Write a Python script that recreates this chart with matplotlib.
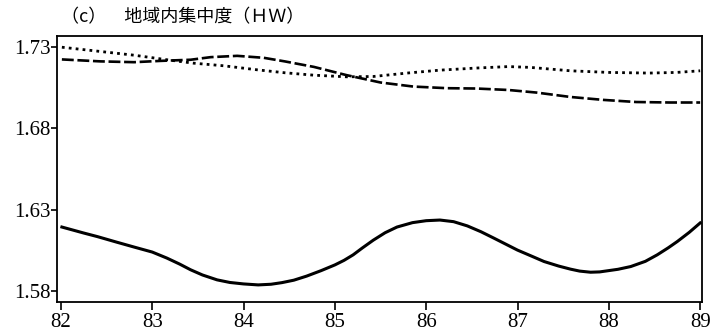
import matplotlib.pyplot as plt

plt.rcParams['font.family'] = ['Liberation Serif', 'Noto Sans CJK JP']

# solid line
yr_solid = [82.01, 82.25, 82.4, 82.61, 82.8, 83.0, 83.16, 83.3, 83.42, 83.55, 83.71, 83.85,
            84.0, 84.16, 84.3, 84.42, 84.55, 84.69, 84.85, 85.0, 85.1, 85.2, 85.3, 85.42,
            85.55, 85.68, 85.85, 86.0, 86.15, 86.3, 86.45, 86.6, 86.74, 86.87, 87.0, 87.15,
            87.29, 87.45, 87.58, 87.68, 87.8, 87.9, 88.0, 88.1, 88.24, 88.4, 88.53, 88.65,
            88.75, 88.88, 89.0]
hw_solid = [1.6193, 1.6156, 1.6134, 1.6100, 1.6070, 1.6039, 1.6002, 1.5965, 1.5930, 1.5898,
            1.5868, 1.5852, 1.5843, 1.5837, 1.5841, 1.5851, 1.5866, 1.5891, 1.5925, 1.5960,
            1.5988, 1.6022, 1.6064, 1.6112, 1.6158, 1.6193, 1.6220, 1.6232, 1.6236, 1.6226,
            1.6200, 1.6164, 1.6125, 1.6088, 1.6051, 1.6015, 1.5981, 1.5953, 1.5934, 1.5922,
            1.5915, 1.5917, 1.5925, 1.5933, 1.5950, 1.5982, 1.6022, 1.6065, 1.6104, 1.6160,
            1.6218]

# dotted line
yr_dot = [82.01, 82.43, 82.8, 83.16, 83.45, 83.78, 84.15, 84.45, 84.77, 85.13,
          85.42, 85.79, 86.15, 86.55, 86.9, 87.14, 87.58, 88.0, 88.44, 88.74, 89.0]
hw_dot = [1.7299, 1.7273, 1.7250, 1.7222, 1.7201, 1.7185, 1.7160, 1.7142, 1.7127, 1.7117,
          1.7119, 1.7140, 1.7158, 1.7171, 1.7180, 1.7175, 1.7154, 1.7144, 1.7140, 1.7144, 1.7154]

# dashed line
yr_dash = [82.01, 82.43, 82.8, 83.09, 83.42, 83.64, 83.93, 84.22, 84.45, 84.77,
           85.13, 85.5, 85.86, 86.23, 86.55, 86.9, 87.21, 87.58, 87.94, 88.3, 88.67, 89.0]
hw_dash = [1.7224, 1.7212, 1.7207, 1.7215, 1.7222, 1.7238, 1.7246, 1.7234, 1.7212, 1.7178,
           1.7127, 1.7082, 1.7057, 1.7047, 1.7045, 1.7036, 1.7020, 1.6993, 1.6975, 1.6962, 1.6959, 1.6959]

xticks = [82, 83, 84, 85, 86, 87, 88, 89]
yticks = [1.58, 1.63, 1.68, 1.73]

fig = plt.figure(figsize=(7.11, 3.31), dpi=100)
ax = fig.add_axes([0.0806, 0.0867, 0.9067, 0.8045])

ax.plot(yr_solid, hw_solid, color='black', lw=2.2, solid_joinstyle='round')
ax.plot(yr_dot, hw_dot, color='black', lw=2.0, dashes=(1, 1.5))
ax.plot(yr_dash, hw_dash, color='black', lw=1.9, dashes=(4.5, 1.4))

ax.set_xlim(81.96, 89.02)
ax.set_ylim(1.573, 1.7368)
ax.set_xticks(xticks)
ax.set_xticklabels([str(x) for x in xticks])
ax.set_yticks(yticks)
ax.set_yticklabels(['1.58', '1.63', '1.68', '1.73'])
ax.tick_params(axis='x', direction='out', length=6, width=1.2, labelsize=15, pad=2)
ax.tick_params(axis='y', direction='out', length=4, width=1.2, labelsize=15, pad=1)
for s in ax.spines.values():
    s.set_linewidth(1.3)

fig.text(0.086, 0.975, '（c）　地域内集中度（ＨＷ）', ha='left', va='top', fontsize=13,
         family=['Noto Sans CJK JP', 'DejaVu Sans'])

fig.savefig('out.png', dpi=100)
